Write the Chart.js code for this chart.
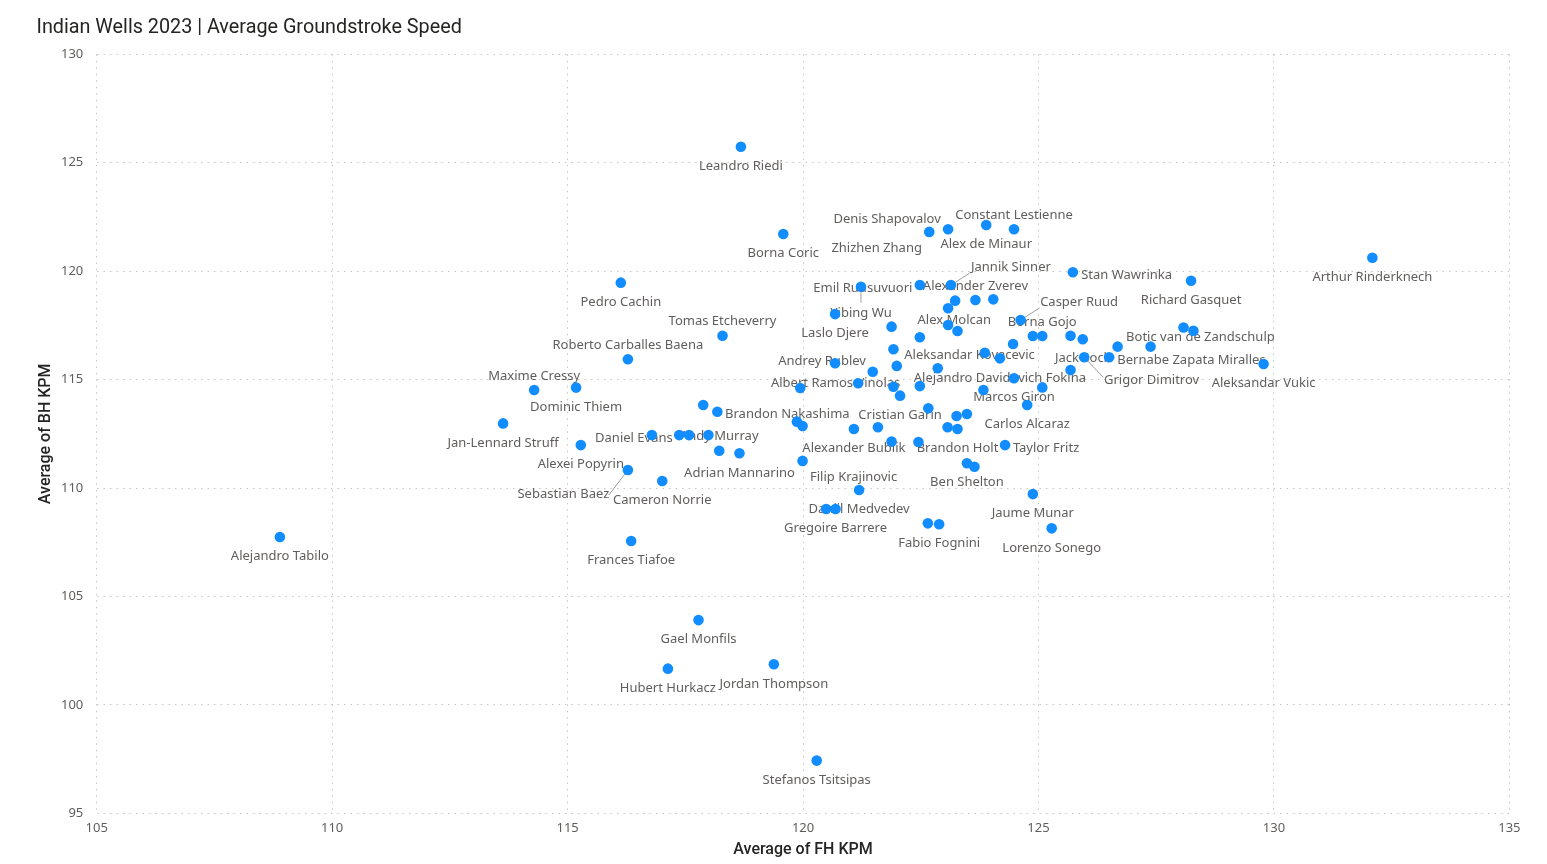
<!DOCTYPE html>
<html>
<head>
<meta charset="utf-8">
<title>Indian Wells 2023 | Average Groundstroke Speed</title>
<script src="https://cdn.jsdelivr.net/npm/chart.js@4.4.0/dist/chart.umd.min.js"></script>
<style>
  html, body { margin: 0; padding: 0; background: #fff; }
  canvas { display: block; }
</style>
</head>
<body>
<canvas id="chart" width="1547" height="864"></canvas>
<script>
// one entry per player, null where the visual hid the name
const players = [
  "Leandro Riedi", "Borna Coric", "Pedro Cachin", "Tomas Etcheverry", "Roberto Carballes Baena",
  "Maxime Cressy", "Dominic Thiem", "Jan-Lennard Struff", "Alexei Popyrin", "Sebastian Baez",
  "Cameron Norrie", "Alejandro Tabilo", "Frances Tiafoe", "Gael Monfils", "Hubert Hurkacz",
  "Jordan Thompson", "Stefanos Tsitsipas", "Daniel Evans", null, null,
  null, null, "Brandon Nakashima", "Andy Murray", "Adrian Mannarino",
  null, null, "Filip Krajinovic", null, "Andrey Rublev",
  "Laslo Djere", "Yibing Wu", null, "Gregoire Barrere", "Daniil Medvedev",
  "Alexander Bublik", null, "Albert Ramos Vinolas", null, null,
  null, "Cristian Garin", null, null, null,
  "Emil Ruusuvuori", null, null, null, null,
  null, "Zhizhen Zhang", "Denis Shapovalov", "Alex de Minaur", "Constant Lestienne",
  "Jannik Sinner", "Alexander Zverev", null, null, "Alex Molcan",
  null, null, null, "Brandon Holt", null,
  null, "Ben Shelton", null, null, "Fabio Fognini",
  "Aleksandar Kovacevic", null, "Alejandro Davidovich Fokina", "Taylor Fritz", null,
  "Marcos Giron", "Casper Ruud", "Carlos Alcaraz", null, "Borna Gojo",
  null, "Jaume Munar", "Lorenzo Sonego", null, "Jack Sock",
  null, "Grigor Dimitrov", "Bernabe Zapata Miralles", null, null,
  "Stan Wawrinka", "Richard Gasquet", null, "Botic van de Zandschulp", "Aleksandar Vukic",
  "Arthur Rinderknech"
];

const fhKpm = [
  118.68, 119.58, 116.13, 118.29, 116.28,
  114.29, 115.18, 113.63, 115.28, 116.28,
  117.01, 108.89, 116.35, 117.78, 117.13,
  119.38, 120.29, 116.79, 117.37, 117.58,
  117.99, 117.88, 118.18, 118.22, 118.65,
  119.87, 119.99, 119.99, 119.94, 120.68,
  120.68, 121.23, 120.49, 120.69, 121.19,
  121.08, 121.59, 121.17, 121.48, 121.88,
  121.92, 122.06, 121.99, 121.92, 121.88,
  122.48, 122.48, 122.48, 122.45, 122.66,
  122.86, 122.68, 123.08, 123.89, 124.48,
  123.14, 123.23, 123.66, 124.04, 123.08,
  123.08, 123.28, 123.07, 123.28, 123.26,
  123.48, 123.48, 123.64, 122.65, 122.89,
  123.86, 123.83, 124.18, 124.29, 124.46,
  124.48, 124.62, 124.76, 124.88, 125.08,
  125.08, 124.88, 125.28, 125.68, 125.94,
  125.68, 125.97, 126.50, 126.68, 127.38,
  125.73, 128.24, 128.08, 128.29, 129.78,
  132.09
];

const bhKpm = [
  125.74, 121.71, 119.47, 117.02, 115.94,
  114.52, 114.63, 112.98, 111.98, 110.83,
  110.32, 107.74, 107.56, 103.91, 101.67,
  101.87, 97.43, 112.44, 112.44, 112.44,
  112.44, 113.83, 113.52, 111.72, 111.60,
  113.06, 112.86, 111.25, 114.61, 115.75,
  118.02, 119.28, 109.03, 109.03, 109.91,
  112.72, 112.80, 114.83, 115.36, 112.14,
  114.67, 114.26, 115.63, 116.40, 117.44,
  119.36, 116.95, 114.70, 112.12, 113.68,
  115.52, 121.81, 121.93, 122.13, 121.93,
  119.36, 118.64, 118.67, 118.70, 118.29,
  117.52, 117.24, 112.80, 112.72, 113.32,
  113.41, 111.14, 110.98, 108.37, 108.33,
  116.24, 114.52, 115.98, 111.98, 116.64,
  115.06, 117.75, 113.83, 117.01, 117.01,
  114.64, 109.72, 108.14, 117.02, 116.86,
  115.44, 116.03, 116.03, 116.52, 116.52,
  119.95, 119.56, 117.40, 117.25, 115.72,
  120.62
];

const xTicks = [105, 110, 115, 120, 125, 130, 135];
const yTicks = [95, 100, 105, 110, 115, 120, 125, 130];

// label placement relative to the dot (px): [dx, dy] to text centre, optional leader end
const BELOW = [0, 19.5], ABOVE = [0, -14];
const labelPos = {
  "Tomas Etcheverry": ABOVE, "Roberto Carballes Baena": ABOVE, "Maxime Cressy": ABOVE,
  "Andy Murray": ABOVE, "Constant Lestienne": ABOVE, "Borna Gojo": ABOVE,
  "Sebastian Baez": { at: [-64.5, 24], line: [-19, 25] },
  "Yibing Wu": { at: [0, 26.5], line: [0, 16] },
  "Jannik Sinner": { at: [60, -18], line: [19, -12] },
  "Casper Ruud": { at: [58.5, -17.5], line: [19, -12] },
  "Grigor Dimitrov": { at: [67.4, 23], line: [19, 20] },
  "Daniel Evans": [-18, 3.5],
  "Brandon Nakashima": [70, 3],
  "Filip Krajinovic": [51, 16.5],
  "Andrey Rublev": [-13, -2.5],
  "Albert Ramos Vinolas": [-22.5, 0.5],
  "Emil Ruusuvuori": [-57, 3],
  "Zhizhen Zhang": [-52.6, 16],
  "Denis Shapovalov": [-61, -10.5],
  "Alexander Zverev": [20.3, -14.3],
  "Alex Molcan": [6.2, 12],
  "Aleksandar Kovacevic": [-15.3, 3],
  "Taylor Fritz": [41, 3.3],
  "Bernabe Zapata Miralles": [82.3, 3],
  "Stan Wawrinka": [53.7, 3],
  "Botic van de Zandschulp": [7, 6.5]
};

const points = fhKpm.map((x, i) => ({ x: x, y: bhKpm[i] }));

const titlePlugin = {
  id: 'pageTitle',
  afterDraw(chart) {
    const ctx = chart.ctx;
    ctx.save();
    ctx.font = '400 19.8px Roboto, "DejaVu Sans", sans-serif';
    ctx.fillStyle = '#252423';
    ctx.textAlign = 'left';
    ctx.textBaseline = 'middle';
    ctx.fillText('Indian Wells 2023 | Average Groundstroke Speed', 36.5, 28);
    ctx.restore();
  }
};

const namePlugin = {
  id: 'names',
  beforeDatasetsDraw(chart) {
    const ctx = chart.ctx;
    const meta = chart.getDatasetMeta(0);
    ctx.save();
    ctx.font = '13px "Noto Sans", "Open Sans", sans-serif';
    ctx.fillStyle = '#605E5C';
    ctx.textAlign = 'center';
    ctx.textBaseline = 'middle';
    players.forEach((name, i) => {
      if (!name) return;
      const pt = meta.data[i];
      let place = labelPos[name] || BELOW;
      let at = Array.isArray(place) ? place : place.at;
      if (place.line) {
        ctx.strokeStyle = '#A19F9D';
        ctx.lineWidth = 1;
        ctx.beginPath();
        ctx.moveTo(pt.x, pt.y);
        ctx.lineTo(pt.x + place.line[0], pt.y + place.line[1]);
        ctx.stroke();
      }
      ctx.fillText(name, pt.x + at[0], pt.y + at[1]);
    });
    ctx.restore();
  }
};

const gridStyle = { color: '#C8C6C4', lineWidth: 1, drawTicks: false };
const tickFont = { family: '"Noto Sans", "Open Sans", sans-serif', size: 13 };
const axisTitleFont = { family: 'Roboto, "DejaVu Sans", sans-serif', size: 16, weight: '500' };

new Chart(document.getElementById('chart'), {
  type: 'scatter',
  data: {
    labels: players,
    datasets: [{
      data: points,
      backgroundColor: '#118DFF',
      borderWidth: 0,
      pointRadius: 5.3,
      pointHoverRadius: 5.3
    }]
  },
  options: {
    responsive: false,
    animation: false,
    devicePixelRatio: 1,
    layout: { padding: { top: 54.3, right: 37.6, bottom: 0, left: 0 } },
    plugins: { legend: { display: false }, tooltip: { enabled: false } },
    scales: {
      x: {
        type: 'linear',
        min: 105,
        max: 135,
        afterBuildTicks: (s) => { s.ticks = xTicks.map(v => ({ value: v })); },
        afterFit: (s) => { s.height = 50.7; },
        grid: gridStyle,
        border: { display: false, dash: [1.5, 5] },
        ticks: { color: '#605E5C', font: tickFont, padding: 7 },
        title: { display: true, text: 'Average of FH KPM', color: '#252423', font: axisTitleFont, padding: { bottom: 4.5 } }
      },
      y: {
        type: 'linear',
        min: 95,
        max: 130,
        afterBuildTicks: (s) => { s.ticks = yTicks.map(v => ({ value: v })); },
        afterFit: (s) => { s.width = 96.7; },
        grid: gridStyle,
        border: { display: false, dash: [1.5, 5] },
        ticks: { color: '#605E5C', font: tickFont, padding: 13.4 },
        title: { display: true, text: 'Average of BH KPM', color: '#252423', font: axisTitleFont, padding: { top: 36 } }
      }
    }
  },
  plugins: [titlePlugin, namePlugin]
});
</script>
</body>
</html>
